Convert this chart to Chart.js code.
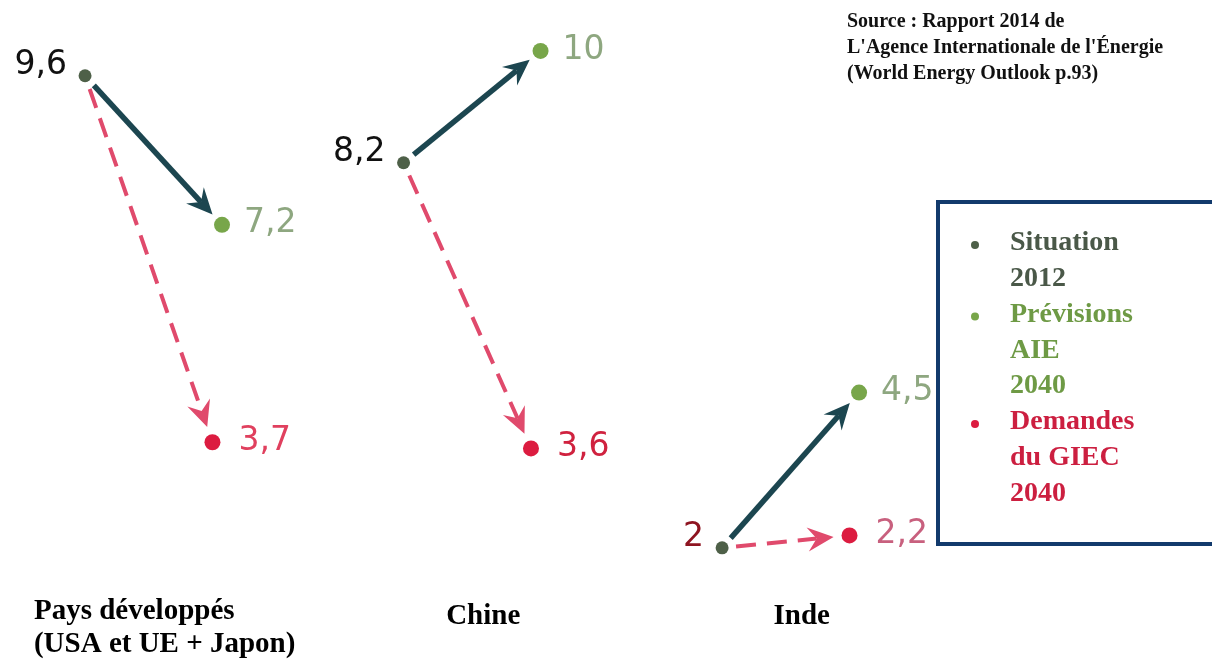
<!DOCTYPE html>
<html lang="fr">
<head>
<meta charset="utf-8">
<title>Émissions de CO2 par habitant</title>
<script src="https://cdn.jsdelivr.net/npm/chart.js@4.4.1/dist/chart.umd.min.js"></script>
<style>
    html, body { margin: 0; padding: 0; background: #fff; }
    #wrap { position: relative; width: 1212px; height: 659px; }
</style>
</head>
<body>
<div id="wrap"><canvas id="co2Chart"></canvas></div>
<script>
// Données (t CO2 / habitant)
const categories = [['Pays développés', '(USA et UE + Japon)'], ['Chine'], ['Inde']];
const situation2012 = [9.6, 8.2, 2];
const previsionsAIE2040 = [7.2, 10, 4.5];
const demandesGIEC2040 = [3.7, 3.6, 2.2];
const seriesLabels = [['Situation', '2012'], ['Prévisions', 'AIE', '2040'], ['Demandes', 'du GIEC', '2040']];
const sourceLines = ['Source : Rapport 2014 de', "L'Agence Internationale de l'Énergie", '(World Energy Outlook p.93)'];

const COL_2012 = '#4e6048';
const COL_AIE = '#78a64a';
const COL_GIEC = '#dc1c40';
const ARROW_SOLID = '#1c4650';
const ARROW_DASH = '#e04a6c';
const SERIF = '"Liberation Serif", "DejaVu Serif", serif';
const SANS = '"DejaVu Sans", Verdana, sans-serif';

// décalage horizontal des points 2040 par rapport à 2012 (unités d'axe)
const OFF_AIE = 0.43;
const OFF_GIEC = 0.40;
const OFF_NAME = 0.25;

const fmt = v => String(v).replace('.', ',');
const toPoints = (vals, off) => vals.map((v, i) => ({ x: i + off, y: v }));

function drawArrow(ctx, a, b, startGap, endGap, color, width, dash) {
    const dx = b.x - a.x, dy = b.y - a.y;
    const len = Math.hypot(dx, dy);
    const ux = dx / len, uy = dy / len;
    const sx = a.x + ux * startGap, sy = a.y + uy * startGap;
    const tx = b.x - ux * endGap, ty = b.y - uy * endGap;
    const headLen = 26, headW = 12, notch = 9;
    ctx.save();
    ctx.strokeStyle = color;
    ctx.fillStyle = color;
    ctx.lineWidth = width;
    ctx.setLineDash(dash || []);
    ctx.beginPath();
    ctx.moveTo(sx, sy);
    ctx.lineTo(tx - ux * (headLen - notch), ty - uy * (headLen - notch));
    ctx.stroke();
    ctx.setLineDash([]);
    const bx = tx - ux * headLen, by = ty - uy * headLen;
    ctx.beginPath();
    ctx.moveTo(tx, ty);
    ctx.lineTo(bx - uy * headW, by + ux * headW);
    ctx.lineTo(tx - ux * (headLen - notch), ty - uy * (headLen - notch));
    ctx.lineTo(bx + uy * headW, by - ux * headW);
    ctx.closePath();
    ctx.fill();
    ctx.restore();
}

const annotations = {
    id: 'annotations',
    beforeDatasetsDraw(chart) {
        const ctx = chart.ctx;
        const p0 = chart.getDatasetMeta(0).data;
        const p1 = chart.getDatasetMeta(1).data;
        const p2 = chart.getDatasetMeta(2).data;
        categories.forEach((c, i) => {
            drawArrow(ctx, p0[i], p2[i], 14, 16, ARROW_DASH, 4, [20, 11]);
            drawArrow(ctx, p0[i], p1[i], 13, 14, ARROW_SOLID, 5.5);
        });
    },
    afterDatasetsDraw(chart) {
        const ctx = chart.ctx;
        const xs = chart.scales.x;
        const p0 = chart.getDatasetMeta(0).data;
        const p1 = chart.getDatasetMeta(1).data;
        const p2 = chart.getDatasetMeta(2).data;
        ctx.save();

        // valeurs
        ctx.font = '33px ' + SANS;
        ctx.textBaseline = 'middle';
        const col2012 = ['#111111', '#111111', '#8e1420'];
        const colGiec = ['#e0405e', '#d0223f', '#c8607e'];
        categories.forEach((c, i) => {
            ctx.textAlign = 'right';
            ctx.fillStyle = col2012[i];
            ctx.fillText(fmt(situation2012[i]), p0[i].x - 18, p0[i].y - 10);
            ctx.textAlign = 'left';
            ctx.fillStyle = '#8ea780';
            ctx.fillText(fmt(previsionsAIE2040[i]), p1[i].x + 22, p1[i].y - 1);
            ctx.fillStyle = colGiec[i];
            ctx.fillText(fmt(demandesGIEC2040[i]), p2[i].x + 26, p2[i].y - 1);
        });

        // noms des pays
        ctx.fillStyle = '#000';
        ctx.textAlign = 'left';
        ctx.textBaseline = 'alphabetic';
        ctx.font = 'bold 29px ' + SERIF;
        categories.forEach((lines, i) => {
            const cx = xs.getPixelForValue(i + OFF_NAME);
            const w = Math.max(...lines.map(t => ctx.measureText(t).width));
            const top = lines.length > 1 ? 619 : 624;
            lines.forEach((t, k) => ctx.fillText(t, cx - w / 2, top + k * 33));
        });

        // source
        ctx.textBaseline = 'middle';
        ctx.font = 'bold 20px ' + SERIF;
        ctx.fillStyle = '#111';
        sourceLines.forEach((t, k) => ctx.fillText(t, 847, 22 + k * 26));

        // légende
        ctx.strokeStyle = '#123a6c';
        ctx.lineWidth = 4;
        ctx.strokeRect(938, 202, 300, 342);
        const legCols = [COL_2012, COL_AIE, COL_GIEC];
        const txtCols = ['#4a5848', '#6e9a45', '#cc1f40'];
        ctx.font = 'bold 28px ' + SERIF;
        let y = 243;
        seriesLabels.forEach((lines, s) => {
            ctx.fillStyle = legCols[s];
            ctx.beginPath();
            ctx.arc(975, y + 2, 4, 0, Math.PI * 2);
            ctx.fill();
            ctx.fillStyle = txtCols[s];
            lines.forEach(t => {
                ctx.fillText(t, 1010, y);
                y += 35.8;
            });
        });
        ctx.restore();
    }
};

new Chart(document.getElementById('co2Chart'), {
    type: 'scatter',
    data: {
        datasets: [
            { label: 'Situation 2012', data: toPoints(situation2012, 0), backgroundColor: COL_2012, borderWidth: 0, pointRadius: 6.5 },
            { label: 'Prévisions AIE 2040', data: toPoints(previsionsAIE2040, OFF_AIE), backgroundColor: COL_AIE, borderWidth: 0, pointRadius: 8 },
            { label: 'Demandes du GIEC 2040', data: toPoints(demandesGIEC2040, OFF_GIEC), backgroundColor: COL_GIEC, borderWidth: 0, pointRadius: 8 }
        ]
    },
    options: {
        responsive: true,
        maintainAspectRatio: false,
        animation: false,
        layout: { padding: 0, autoPadding: false },
        scales: {
            x: { type: 'linear', display: false, min: -0.267, max: 3.538 },
            y: { type: 'linear', display: false, min: 0.21, max: 10.82 }
        },
        plugins: {
            legend: { display: false },
            tooltip: { enabled: false }
        }
    },
    plugins: [annotations]
});
</script>
</body>
</html>
